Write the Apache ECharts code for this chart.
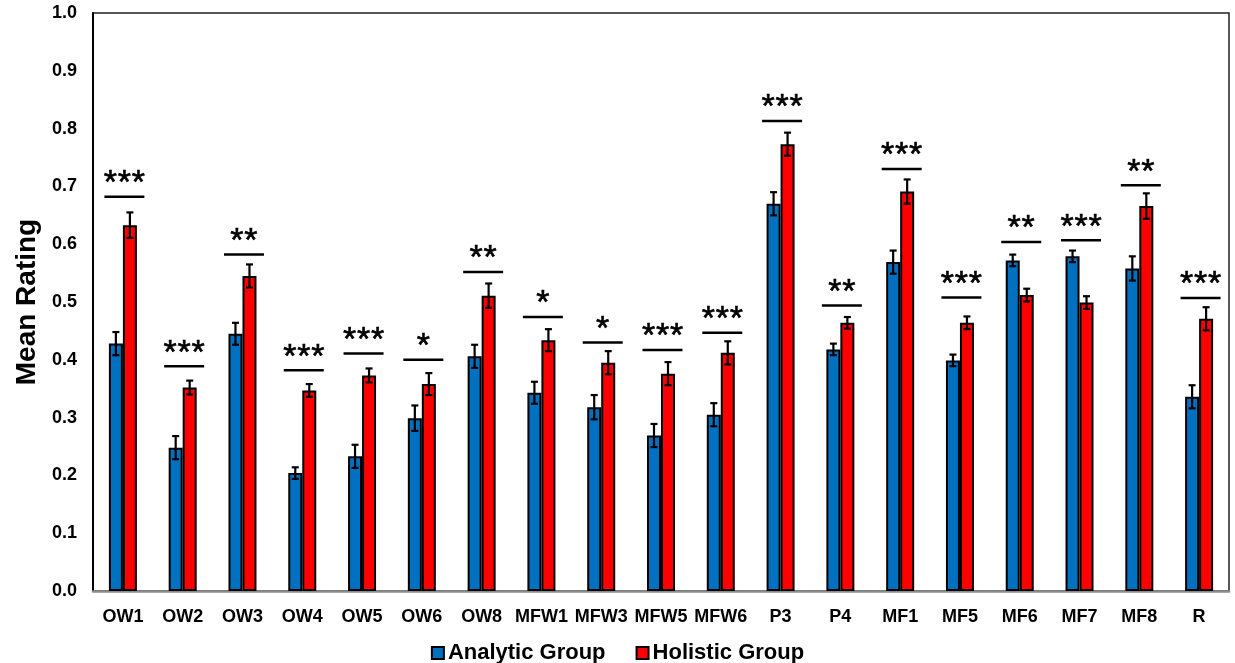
<!DOCTYPE html>
<html>
<head>
<meta charset="utf-8">
<script src="https://cdn.jsdelivr.net/npm/echarts@6/dist/echarts.min.js"></script>
<style>html,body{margin:0;padding:0;background:#fff}#c{width:1235px;height:663px}</style>
</head>
<body>
<div id="c"></div>
<script>
const categories = ['OW1','OW2','OW3','OW4','OW5','OW6','OW8','MFW1','MFW3','MFW5','MFW6','P3','P4','MF1','MF5','MF6','MF7','MF8','R'];
const analytic = [0.428,0.248,0.445,0.204,0.233,0.299,0.406,0.343,0.318,0.269,0.305,0.670,0.418,0.569,0.399,0.572,0.579,0.558,0.336];
const analyticErr = [0.020,0.020,0.019,0.010,0.020,0.022,0.020,0.019,0.021,0.020,0.020,0.020,0.010,0.020,0.010,0.010,0.010,0.021,0.020];
const holistic = [0.633,0.352,0.545,0.347,0.373,0.358,0.511,0.434,0.395,0.376,0.412,0.773,0.464,0.691,0.464,0.512,0.499,0.666,0.471];
const holisticErr = [0.022,0.012,0.020,0.011,0.012,0.019,0.021,0.019,0.020,0.020,0.020,0.020,0.010,0.021,0.011,0.011,0.011,0.022,0.020];
const sigLevel = [0.682,0.389,0.582,0.382,0.411,0.400,0.552,0.474,0.430,0.417,0.447,0.813,0.494,0.730,0.508,0.604,0.607,0.702,0.507];
const sigStars = ['***','***','**','***','***','*','**','*','*','***','***','***','**','***','***','**','***','**','***'];
const yTicks = [0,0.1,0.2,0.3,0.4,0.5,0.6,0.7,0.8,0.9,1.0];

const FONT = 'Liberation Sans, Arial, sans-serif';
const BAR_W = 14;

function errData(vals, errs){
  return vals.map((v,i)=>[i, v-errs[i], v+errs[i]]);
}
function errRender(offset){
  return function(params, api){
    const idx = api.value(0);
    const lo = api.coord([idx, api.value(1)]);
    const hi = api.coord([idx, api.value(2)]);
    const x = lo[0] + offset;
    const cap = 3.5;
    const st = {stroke:'#000', lineWidth:2.2};
    return {type:'group', children:[
      {type:'line', shape:{x1:x,y1:lo[1],x2:x,y2:hi[1]}, style:st},
      {type:'line', shape:{x1:x-cap,y1:lo[1],x2:x+cap,y2:lo[1]}, style:st},
      {type:'line', shape:{x1:x-cap,y1:hi[1],x2:x+cap,y2:hi[1]}, style:st}
    ]};
  };
}
function sigRender(params, api){
  const idx = api.value(0);
  const p = api.coord([idx, api.value(1)]);
  const x = p[0] + 1.5;
  const s = sigStars[params.dataIndex];
  const n = s.length;
  const pitch = 14;
  const children = [
    {type:'line', shape:{x1:x-20,y1:p[1],x2:x+20,y2:p[1]}, style:{stroke:'#000', lineWidth:2.5}}
  ];
  for (let k = 0; k < n; k++) {
    const cx = x + (k - (n-1)/2) * pitch;
    children.push({type:'text', style:{text:'*', x:cx, y:p[1]+4, align:'center', verticalAlign:'bottom',
      font:'34px ' + FONT, fill:'#000', stroke:'#000', lineWidth:0.6}});
  }
  return {type:'group', children:children};
}

const chart = echarts.init(document.getElementById('c'));
chart.setOption({
  animation:false,
  backgroundColor:'#fff',
  grid:{left:93, right:6, top:13, bottom:72, show:true, borderColor:'#222', borderWidth:1.5, backgroundColor:'transparent', outerBoundsMode:'none', containLabel:false},
  legend:{
    data:[{name:'Analytic Group', itemStyle:{borderColor:'#000', borderWidth:2}},{name:'Holistic Group', itemStyle:{borderColor:'#000', borderWidth:2}}],
    top:637, left:'center', itemWidth:12, itemHeight:12, itemGap:30, icon:'rect',
    textStyle:{fontFamily:FONT, fontWeight:'bold', fontSize:22, color:'#000', padding:[0,0,0,-1]}
  },
  xAxis:{
    type:'category', data:categories,
    axisLine:{lineStyle:{color:'#8c8c8c', width:2.5}},
    axisTick:{show:false},
    axisLabel:{fontFamily:FONT, fontWeight:'bold', fontSize:18, color:'#000', margin:17, interval:0}
  },
  yAxis:{
    type:'value', min:0, max:1, interval:0.1,
    name:'Mean Rating', nameLocation:'middle', nameGap:52,
    nameTextStyle:{fontFamily:FONT, fontWeight:'bold', fontSize:28, color:'#000'},
    axisLine:{show:true, lineStyle:{color:'#000', width:2}},
    axisTick:{show:false},
    splitLine:{show:false},
    axisLabel:{fontFamily:FONT, fontWeight:'bold', fontSize:18, color:'#000', margin:16,
      formatter:v=>{ const t = yTicks.find(k=>Math.abs(k-v)<1e-9); return (t!==undefined?t:v).toFixed(1); }}
  },
  series:[
    {name:'Analytic Group', type:'bar', data:analytic, barWidth:BAR_W, barGap:'0%',
      itemStyle:{color:'#0070C0', borderColor:'#000', borderWidth:2}},
    {name:'Holistic Group', type:'bar', data:holistic, barWidth:BAR_W, barGap:'0%',
      itemStyle:{color:'#FF0000', borderColor:'#000', borderWidth:2}},
    {type:'custom', name:'errA', renderItem:errRender(-BAR_W/2), data:errData(analytic, analyticErr), z:5, encode:{x:0,y:[1,2]}},
    {type:'custom', name:'errH', renderItem:errRender(BAR_W/2), data:errData(holistic, holisticErr), z:5, encode:{x:0,y:[1,2]}},
    {type:'custom', name:'sig', renderItem:sigRender, data:sigLevel.map((v,i)=>[i,v]), z:5, encode:{x:0,y:1}}
  ]
});
</script>
</body>
</html>
